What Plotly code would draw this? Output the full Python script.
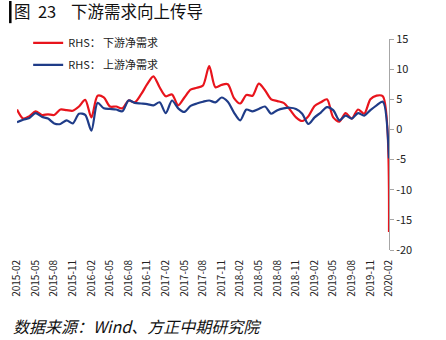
import plotly.graph_objects as go

# Monthly observations, 2015-02 .. 2020-02
months = [f"{2015 + (m // 12)}-{m % 12 + 1:02d}" for m in range(1, 62)]

downstream = [3.3, 1.8, 2.2, 3.0, 2.4, 2.5, 2.4, 3.3, 3.2, 3.1, 3.8, 4.9,
              2.0, 5.6, 5.3, 3.8, 3.8, 3.5, 4.8, 4.5, 5.8, 7.5, 8.8, 7.0,
              5.5, 5.8, 4.0, 5.3, 6.6, 6.9, 7.3, 10.5, 7.0, 7.4, 7.5, 5.2,
              4.3, 5.7, 5.6, 7.6, 6.5, 5.0, 4.7, 4.4, 3.3, 2.0, 1.4, 2.2,
              3.9, 4.5, 5.0, 2.0, 1.3, 2.7, 1.8, 3.3, 2.6, 5.0, 5.6, 5.5,
              -17.0]
upstream = [1.2, 1.6, 1.9, 2.7, 2.1, 1.8, 1.0, 0.9, 1.5, 1.0, 2.6, 2.4,
            -0.2, 4.4, 3.5, 3.4, 3.3, 3.0, 4.8, 4.4, 4.3, 4.2, 4.0, 4.5,
            2.7, 4.8, 3.5, 2.9, 3.9, 4.3, 4.6, 4.8, 4.5, 5.3, 4.6, 2.8,
            1.5, 3.3, 3.0, 3.4, 3.8, 2.6, 3.2, 3.5, 3.6, 3.4, 2.6, 0.9,
            2.0, 2.8, 3.7, 3.2, 1.5, 2.3, 1.8, 2.7, 2.3, 3.2, 4.0, 4.6,
            -4.8]

series_names = ["RHS：\u2009下游净需求", "RHS：\u2009上游净需求"]
series_colors = ["#E8141C", "#1F3C88"]
y_ticks = [15, 10, 5, 0, -5, -10, -15, -20]
x_tick_labels = months[::3]

Y_MIN, Y_MAX = -20, 15
FONT = "Noto Sans CJK SC, Noto Sans, sans-serif"

fig = go.Figure()
for i, (name, vals, color) in enumerate(zip(series_names, [downstream, upstream], series_colors)):
    fig.add_trace(go.Scatter(
        x=months, y=vals, name=name, mode="lines", legendgroup=f"g{i}",
        line=dict(color=color, width=2.2, shape="spline", smoothing=0.8),
    ))

# horizontal category axis sits on the zero line
zero_pos = (0 - Y_MIN) / (Y_MAX - Y_MIN)

fig.update_layout(
    width=446, height=340,
    margin=dict(l=17, r=57, t=39, b=90, autoexpand=False),
    paper_bgcolor="white", plot_bgcolor="white",
    font=dict(family=FONT, color="#222"),
    showlegend=True,
    legend=dict(
        x=0.03, y=1.05, xanchor="left", yanchor="top",
        font=dict(size=11, color="#222"),
        bgcolor="rgba(0,0,0,0)", tracegroupgap=3,
        itemwidth=30,
    ),
    xaxis=dict(
        type="category", categoryorder="array", categoryarray=months,
        range=[0, len(months) - 1],
        tickvals=x_tick_labels, ticktext=x_tick_labels,
        tickangle=-90, ticks="", showline=False, showgrid=False,
        zeroline=False, ticklabelstandoff=7,
        tickfont=dict(size=10, color="#222"),
    ),
    xaxis2=dict(
        overlaying="x", anchor="free", position=zero_pos,
        range=[0, len(months) - 1], tick0=0, dtick=3,
        showticklabels=False, ticks="outside", ticklen=4,
        tickcolor="#A6A6A6", showline=True, linecolor="#A6A6A6",
        linewidth=1, showgrid=False, zeroline=False,
    ),
    yaxis=dict(
        side="right", range=[Y_MIN, Y_MAX],
        tickvals=y_ticks, ticktext=[str(v) for v in y_ticks],
        ticks="outside", ticklen=4, tickcolor="#A6A6A6",
        showline=True, linecolor="#A6A6A6", linewidth=1,
        showgrid=False, zeroline=False,
        tickfont=dict(size=11, color="#222"),
    ),
)

# title with the left marker bar
fig.add_annotation(
    xref="paper", yref="paper", x=-0.013, y=1.2,
    xanchor="left", yanchor="top", showarrow=False,
    text="图\u00a0\u00a023\u00a0\u00a0\u00a0\u00a0下游需求向上传导",
    font=dict(family=FONT, size=16.5, color="#111"),
)
fig.add_shape(
    type="line", xref="paper", yref="paper",
    x0=-0.018, x1=-0.018, y0=1.075, y1=1.18,
    line=dict(color="#000", width=2.5),
)

# source note
fig.add_annotation(
    xref="paper", yref="paper", x=-0.015, y=-0.295,
    xanchor="left", yanchor="top", showarrow=False,
    text="<i>数据来源：Wind、方正中期研究院</i>",
    font=dict(family=FONT, size=16, color="#111"),
)

fig.write_html("out.html")
